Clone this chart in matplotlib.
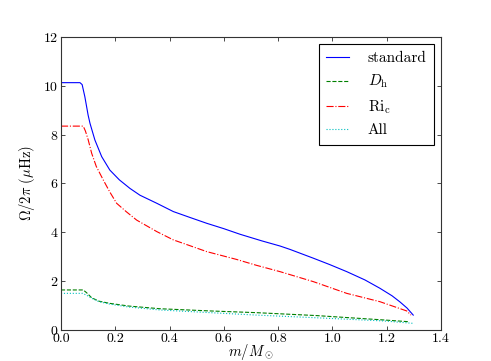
import numpy as np
import matplotlib as mpl
mpl.use('Agg')
import matplotlib.pyplot as plt

# values
m_std = [0.0, 0.07, 0.078, 0.088, 0.1, 0.107, 0.125, 0.15, 0.18, 0.215, 0.254,
         0.291, 0.353, 0.414, 0.475, 0.537, 0.60, 0.66, 0.74, 0.807, 0.844,
         0.93, 0.99, 1.053, 1.12, 1.175, 1.22, 1.249, 1.275, 1.298]
om_std = [10.13, 10.13, 10.05, 9.55, 8.8, 8.46, 7.78, 7.1, 6.55, 6.15, 5.80,
          5.52, 5.19, 4.85, 4.61, 4.37, 4.15, 3.92, 3.65, 3.44, 3.30,
          2.94, 2.68, 2.39, 2.05, 1.71, 1.40, 1.15, 0.90, 0.61]

m_ric = [0.0, 0.082, 0.09, 0.1, 0.113, 0.13, 0.156, 0.18, 0.205, 0.24, 0.279,
         0.353, 0.414, 0.463, 0.537, 0.647, 0.72, 0.807, 0.93, 1.053, 1.175,
         1.274, 1.29]
om_ric = [8.35, 8.35, 8.15, 7.8, 7.24, 6.7, 6.14, 5.65, 5.19, 4.85, 4.50,
          4.03, 3.69, 3.50, 3.21, 2.89, 2.65, 2.39, 1.98, 1.50, 1.16,
          0.78, 0.61]

m_dh = [0.0, 0.082, 0.095, 0.113, 0.14, 0.18, 0.25, 0.365, 0.55, 0.72, 0.942, 1.19, 1.28]
om_dh = [1.64, 1.64, 1.52, 1.32, 1.18, 1.09, 0.98, 0.87, 0.78, 0.71, 0.59, 0.41, 0.34]

m_all = [0.0, 0.08, 0.095, 0.113, 0.14, 0.18, 0.25, 0.365, 0.55, 0.72, 0.942, 1.19, 1.30]
om_all = [1.50, 1.50, 1.42, 1.30, 1.16, 1.06, 0.94, 0.82, 0.71, 0.61, 0.50, 0.37, 0.27]

labels = ['standard', r'$D_\mathrm{h}$', r'$\mathrm{Ri}_\mathrm{c}$', 'All']

plt.rcParams['font.family'] = 'serif'
plt.rcParams['font.serif'] = ['cmr10', 'DejaVu Serif']
plt.rcParams['mathtext.fontset'] = 'cm'
plt.rcParams['axes.formatter.use_mathtext'] = True
plt.rcParams['font.size'] = 10

fig = plt.figure(figsize=(4.91, 3.61), dpi=100)
ax = fig.add_axes([0.1242, 0.0859, 0.898 - 0.1242, 0.8975 - 0.0859])

lw = 0.8
ax.plot(m_std, om_std, color='b', lw=lw, label=labels[0])
ax.plot(m_dh, om_dh, color='g', lw=lw, ls='--', label=labels[1])
ax.plot(m_ric, om_ric, color='r', lw=lw, ls='-.', label=labels[2])
ax.plot(m_all, om_all, color='c', lw=lw, ls=':', label=labels[3])

ax.set_xlim(0, 1.4)
ax.set_ylim(0, 12)
ax.set_xticks(np.arange(0, 1.41, 0.2))
ax.set_yticks(np.arange(0, 13, 2))
ax.xaxis.set_major_formatter(mpl.ticker.FormatStrFormatter('%.1f'))
ax.tick_params(direction='in', top=True, right=True, length=3, width=0.5,
               pad=2, labelsize=10)
for s in ax.spines.values():
    s.set_linewidth(0.8)
    s.set_color('#333333')

ax.set_xlabel(r'$m/M_\odot$', fontsize=10.5, labelpad=-2)
ax.set_ylabel(r'$\Omega/2\pi\ (\mu\mathrm{Hz})$', fontsize=10.5, labelpad=4)

leg = ax.legend(loc='upper right', fontsize=11, fancybox=False, framealpha=1,
                edgecolor='black', handlelength=1.5, handletextpad=1.2,
                labelspacing=0.5, borderpad=0.5, borderaxespad=0.45)
leg.get_frame().set_linewidth(0.8)

plt.savefig('out.png', dpi=100)
